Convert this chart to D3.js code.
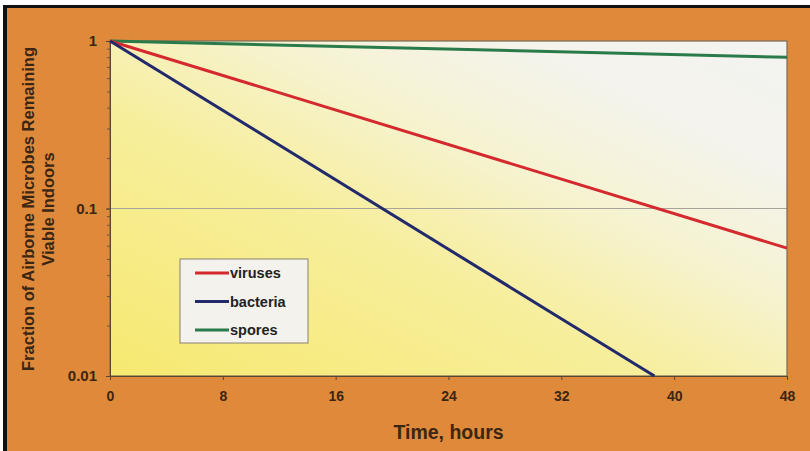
<!DOCTYPE html>
<html>
<head>
<meta charset="utf-8">
<script src="https://cdn.jsdelivr.net/npm/d3@7"></script>
<style>
  body { margin: 0; background: #fff; }
  text { font-family: "Liberation Sans", Arial, sans-serif; font-weight: bold; fill: #3a2612; }
</style>
</head>
<body>
<svg id="chart" width="810" height="451"></svg>
<script>
// series (hours, fraction remaining)
let virusHours = [0, 48];
let virusValues = [1, 0.058];
let bacteriaHours = [0, 38.6];
let bacteriaValues = [1, 0.01];
let sporeHours = [0, 48];
let sporeValues = [1, 0.8];

let xTicks = [0, 8, 16, 24, 32, 40, 48];
let yTicks = [1, 0.1, 0.01];
let yTickLabels = ["1", "0.1", "0.01"];
let legendNames = ["viruses", "bacteria", "spores"];
let seriesColors = ["#d42a2f", "#232a6b", "#2a7a4a"];

let width = 810, height = 451;
let margin = {top: 41, right: 23, bottom: 75, left: 110};
let plotW = width - margin.left - margin.right,
    plotH = height - margin.top - margin.bottom;

let svg = d3.select("#chart");

// page frame: orange card with a black edge on top and left
svg.append("rect").attr("width", width).attr("height", height).attr("fill", "#fff");
svg.append("rect").attr("x", 3).attr("y", 5).attr("width", width - 3).attr("height", height - 5).attr("fill", "#111");
svg.append("rect").attr("x", 7).attr("y", 8).attr("width", width - 7).attr("height", height - 8).attr("fill", "#df893b");

let defs = svg.append("defs");
let grad = defs.append("linearGradient")
    .attr("id", "bg")
    .attr("x1", 0).attr("y1", 1).attr("x2", 1).attr("y2", 0);
grad.append("stop").attr("offset", 0).attr("stop-color", "#f6e970");
grad.append("stop").attr("offset", 0.4).attr("stop-color", "#f7ee9c");
grad.append("stop").attr("offset", 0.62).attr("stop-color", "#f6f3d2");
grad.append("stop").attr("offset", 0.8).attr("stop-color", "#f4f3ec");
grad.append("stop").attr("offset", 1).attr("stop-color", "#f3f3f0");

let xScale = d3.scaleLinear().domain([0, 48]).range([0, plotW]);
let yScale = d3.scaleLog().domain([0.01, 1]).range([plotH, 0]);

let g = svg.append("g").attr("transform", "translate(" + margin.left + "," + margin.top + ")");

g.append("rect")
    .attr("width", plotW)
    .attr("height", plotH)
    .attr("fill", "url(#bg)");

// gridline at 0.1
g.append("line")
    .attr("x1", 0).attr("x2", plotW)
    .attr("y1", yScale(0.1)).attr("y2", yScale(0.1))
    .attr("stroke", "#a8a49a").attr("stroke-width", 1);

g.append("rect")
    .attr("width", plotW)
    .attr("height", plotH)
    .attr("fill", "none")
    .attr("stroke", "#7a6a55")
    .attr("stroke-width", 1.2);

// y axis with minor log ticks
let yAxis = d3.axisLeft(yScale)
    .tickValues(yScale.ticks())
    .tickSize(3)
    .tickFormat("");
g.append("g").attr("class", "y-minor").call(yAxis)
    .call(a => a.select(".domain").attr("stroke", "#5a4632"))
    .call(a => a.selectAll("line").attr("stroke", "#6a5540"));

g.append("g").attr("class", "y-major")
    .call(d3.axisLeft(yScale).tickValues(yTicks).tickSize(4)
        .tickFormat((d, i) => yTickLabels[i]).tickPadding(9))
    .call(a => a.select(".domain").remove())
    .call(a => a.selectAll("line").attr("stroke", "#5a4632"))
    .call(a => a.selectAll("text").style("font-size", "15px").attr("fill", "#3a2612"));

g.append("g").attr("class", "x-axis")
    .attr("transform", "translate(0," + plotH + ")")
    .call(d3.axisBottom(xScale).tickValues(xTicks).tickSize(4).tickPadding(11))
    .call(a => a.select(".domain").attr("stroke", "#5a4632"))
    .call(a => a.selectAll("line").attr("stroke", "#5a4632"))
    .call(a => a.selectAll("text").style("font-size", "14px").attr("fill", "#3a2612"));

// lines
let line = d3.line()
    .x(d => xScale(d[0]))
    .y(d => yScale(d[1]));

let series = [
    d3.zip(sporeHours, sporeValues),
    d3.zip(virusHours, virusValues),
    d3.zip(bacteriaHours, bacteriaValues)
];
let seriesIdx = [2, 0, 1];

g.selectAll(".series")
    .data(series)
    .enter().append("path")
    .attr("class", "series")
    .attr("d", line)
    .attr("fill", "none")
    .attr("stroke", (d, i) => seriesColors[seriesIdx[i]])
    .attr("stroke-width", 3);

// legend
let legend = svg.append("g").attr("transform", "translate(180,259)");
legend.append("rect")
    .attr("width", 128).attr("height", 84)
    .attr("fill", "#f3f2ec")
    .attr("stroke", "#8a8070").attr("stroke-width", 1);

let rows = legend.selectAll(".row")
    .data(legendNames)
    .enter().append("g")
    .attr("transform", (d, i) => "translate(0," + (14 + i * 28.5) + ")");
rows.append("line")
    .attr("x1", 15).attr("x2", 49)
    .attr("stroke", (d, i) => seriesColors[i])
    .attr("stroke-width", 3);
rows.append("text")
    .attr("x", 50).attr("dy", "0.35em")
    .style("font-size", "14.5px")
    .style("fill", "#222")
    .text(d => d);

// axis titles
svg.append("text")
    .attr("x", margin.left + plotW / 2)
    .attr("y", 439)
    .attr("text-anchor", "middle")
    .style("font-size", "19.5px")
    .text("Time, hours");

svg.append("text")
    .attr("transform", "translate(34,209) rotate(-90)")
    .attr("text-anchor", "middle")
    .style("font-size", "16.5px")
    .text("Fraction of Airborne Microbes Remaining");
svg.append("text")
    .attr("transform", "translate(54,209) rotate(-90)")
    .attr("text-anchor", "middle")
    .style("font-size", "16.5px")
    .text("Viable Indoors");
</script>
</body>
</html>
